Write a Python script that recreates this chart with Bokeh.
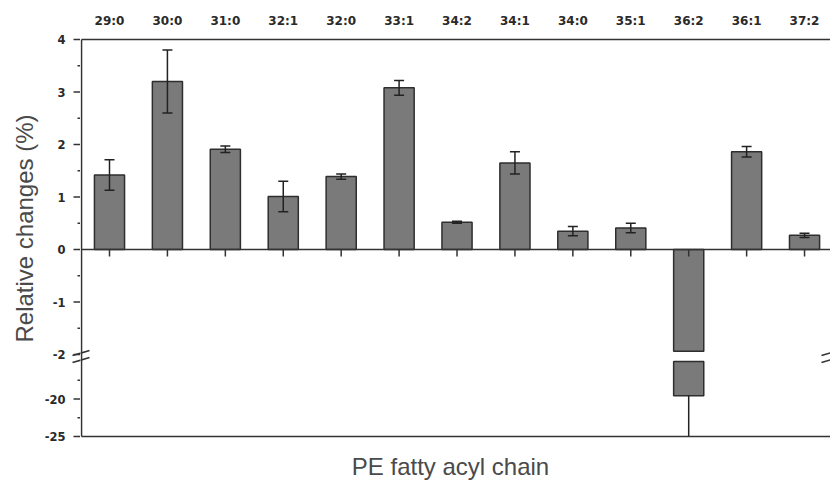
import numpy as np
from bokeh.plotting import figure
from bokeh.layouts import row
from bokeh.models import Range1d, ColumnDataSource, CDSView, BooleanFilter
from bokeh.core.properties import value
from bokeh.embed import file_html
from bokeh.resources import INLINE

# ---------------- data ----------------
categories = ["29:0", "30:0", "31:0", "32:1", "32:0", "33:1", "34:2",
              "34:1", "34:0", "35:1", "36:2", "36:1", "37:2"]
values = [1.42, 3.20, 1.91, 1.01, 1.39, 3.08, 0.52, 1.65, 0.35, 0.41, -19.55, 1.86, 0.27]
errors = [0.29, 0.60, 0.06, 0.29, 0.05, 0.14, 0.02, 0.21, 0.09, 0.09, 6.0, 0.10, 0.04]
upper_ticks = [-2, -1, 0, 1, 2, 3, 4]
upper_minor = [-1.5, -0.5, 0.5, 1.5, 2.5, 3.5]
lower_ticks = [-25, -20]
lower_minor = [-22.5, -17.5]
break_hi = -1.94   # where the upper segment cuts a bar
break_lo = -15     # top of the lower segment
x_title = "PE fatty acyl chain"
y_title = "Relative changes (%)"

# ---------------- layout constants (pixels) ----------------
W, H = 830, 481
LW = 80             # width of the left strip (ticks, labels, title)
AXIS_PX = 81        # page x of the value axis
FIRST_PX = 109      # page x of the first bar centre
SX = 57.92          # px per category
SY1 = 52.5          # px per unit, upper segment
SY2 = 7.5           # px per unit, lower segment
TOP = 39            # page y of the top frame line
BOTTOM = 436        # page y of the bottom frame line

AX = "#333333"
BAR_FILL = "#7a7a7a"
BAR_LINE = "#2e2e2e"
WHISK = "#222222"
TICK_FONT = "DejaVu Sans"
TITLE_FONT = "Liberation Sans"
LABEL_COLOR = "#2a2a2a"
TITLE_COLOR = "#4a4a4a"

X0 = 1 - (FIRST_PX - AXIS_PX) / SX        # x value at the axis
XSTART = X0 - (AXIS_PX - LW) / SX
XEND = X0 + (W - AXIS_PX) / SX
Y1TOP = upper_ticks[-1]
Y2BOT = lower_ticks[0]
# ranges that cover the whole canvas height, so nothing is clipped
R1 = (Y1TOP - (H - TOP) / SY1, Y1TOP + TOP / SY1)
R2 = (Y2BOT - (H - BOTTOM) / SY2, Y2BOT + BOTTOM / SY2)


def py2y(py):
    return Y1TOP - (py - TOP) / SY1


def px2x(px):
    return X0 + (px - AXIS_PX) / SX


xpos = np.arange(1, len(categories) + 1)
v = np.array(values)
e = np.array(errors)
hi = np.where(v >= 0, v + e, v)
lo = v - e
lo_shown = np.maximum(lo, Y2BOT)
capw = 5 / SX

src = ColumnDataSource(dict(
    x=xpos, v=v, lo=lo, hi=hi, lo_shown=lo_shown, xl=xpos - capw, xr=xpos + capw,
    top1=np.maximum(v, break_hi), top2=np.full(len(v), float(break_lo)),
))
view_up = CDSView(filter=BooleanFilter(list(v >= break_hi)))
view_low = CDSView(filter=BooleanFilter(list(v < break_lo)))
view_low_cap = CDSView(filter=BooleanFilter(list((v < break_lo) & (lo >= Y2BOT))))


def bare(fig):
    fig.outline_line_color = None
    fig.grid.visible = False
    fig.background_fill_color = "white"
    fig.border_fill_color = "white"


# ---------------- main plot ----------------
p = figure(width=W - LW, height=H,
           x_range=Range1d(XSTART, XEND), y_range=Range1d(*R1),
           x_axis_location=None, y_axis_location=None,
           toolbar_location=None, output_backend="svg",
           min_border_left=0, min_border_right=0, min_border_top=0,
           min_border_bottom=0)
p.extra_y_ranges = {"lower": Range1d(*R2)}
bare(p)

# upper segment
p.vbar(x="x", top="top1", bottom=0, width=0.52, source=src,
       fill_color=BAR_FILL, line_color=BAR_LINE, line_width=1.5)
p.segment(x0="x", y0="lo", x1="x", y1="hi", source=src, view=view_up,
          line_color=WHISK, line_width=1.5)
for col in ("lo", "hi"):
    p.segment(x0="xl", y0=col, x1="xr", y1=col, source=src, view=view_up,
              line_color=WHISK, line_width=1.5)

# lower segment
p.vbar(x="x", top="top2", bottom="v", width=0.52, source=src, view=view_low,
       y_range_name="lower", fill_color=BAR_FILL, line_color=BAR_LINE, line_width=1.5)
p.segment(x0="x", y0="lo_shown", x1="x", y1="hi", source=src, view=view_low,
          y_range_name="lower", line_color=WHISK, line_width=1.5)
p.segment(x0="xl", y0="lo", x1="xr", y1="lo", source=src, view=view_low_cap,
          y_range_name="lower", line_color=WHISK, line_width=1.5)

# frame lines: value axis, top, zero, bottom
p.segment(x0=[X0], y0=[Y1TOP], x1=[X0], y1=[py2y(BOTTOM)], line_color=AX, line_width=1.6)
p.segment(x0=[X0], y0=[Y1TOP], x1=[XEND], y1=[Y1TOP], line_color=AX, line_width=1.6)
p.segment(x0=[X0], y0=[0], x1=[XEND], y1=[0], line_color=AX, line_width=1.5)
p.segment(x0=[X0], y0=[Y2BOT], x1=[XEND], y1=[Y2BOT], y_range_name="lower",
          line_color=AX, line_width=1.6)
tick_len = 7 / SY1
p.segment(x0=xpos, y0=np.zeros(len(xpos)), x1=xpos, y1=np.full(len(xpos), -tick_len),
          line_color=AX, line_width=1.5)

# break marks (right halves; the left strip draws the rest)
marks = [(72, 355), (72, 362), (821, 355), (821, 362)]
p.segment(x0=[px2x(a) for a, b in marks], y0=[py2y(b) for a, b in marks],
          x1=[px2x(a + 17) for a, b in marks], y1=[py2y(b - 5) for a, b in marks],
          line_color=AX, line_width=1.6)

# category labels above the frame
p.text(x=xpos, y=[py2y(20.5)] * len(xpos), text=categories,
       text_align="center", text_baseline="middle",
       text_font=value(TICK_FONT), text_font_style="bold",
       text_font_size="12px", text_color=LABEL_COLOR)

# x title
p.text(x=[px2x(450)], y=[py2y(466)], text=[x_title],
       text_align="center", text_baseline="middle",
       text_font=value(TITLE_FONT), text_font_size="24px", text_color=TITLE_COLOR)

# ---------------- left strip: value-axis ticks, labels, title ----------------
lf = figure(width=LW, height=H,
            x_range=Range1d(0, LW), y_range=Range1d(*R1),
            x_axis_location=None, y_axis_location=None,
            toolbar_location=None, output_backend="svg",
            min_border_left=0, min_border_right=0, min_border_top=0,
            min_border_bottom=0)
lf.extra_y_ranges = {"lower": Range1d(*R2)}
bare(lf)

major_out, minor_out, standoff = 8, 4, 8
label_x = AXIS_PX - major_out - standoff

for ticks, minor, rng in ((upper_ticks, upper_minor, "default"),
                          (lower_ticks, lower_minor, "lower")):
    lf.segment(x0=[AXIS_PX - major_out] * len(ticks), y0=ticks,
               x1=[LW] * len(ticks), y1=ticks, y_range_name=rng,
               line_color=AX, line_width=1.5)
    lf.segment(x0=[AXIS_PX - minor_out] * len(minor), y0=minor,
               x1=[LW] * len(minor), y1=minor, y_range_name=rng,
               line_color=AX, line_width=1.5)
    lf.text(x=[label_x] * len(ticks), y=ticks, text=[str(t) for t in ticks],
            y_range_name=rng, text_align="right", text_baseline="middle",
            text_font=value(TICK_FONT), text_font_style="bold",
            text_font_size="11.5px", text_color=LABEL_COLOR)

lf.segment(x0=[a for a, b in marks], y0=[py2y(b) for a, b in marks],
           x1=[a + 17 for a, b in marks], y1=[py2y(b - 5) for a, b in marks],
           line_color=AX, line_width=1.6)

lf.text(x=[24], y=[py2y(228)], text=[y_title], angle=np.pi / 2,
        text_align="center", text_baseline="middle",
        text_font=value(TITLE_FONT), text_font_size="24px", text_color=TITLE_COLOR)

layout = row(lf, p, spacing=0)
open("out.html", "w").write(file_html(layout, INLINE))
